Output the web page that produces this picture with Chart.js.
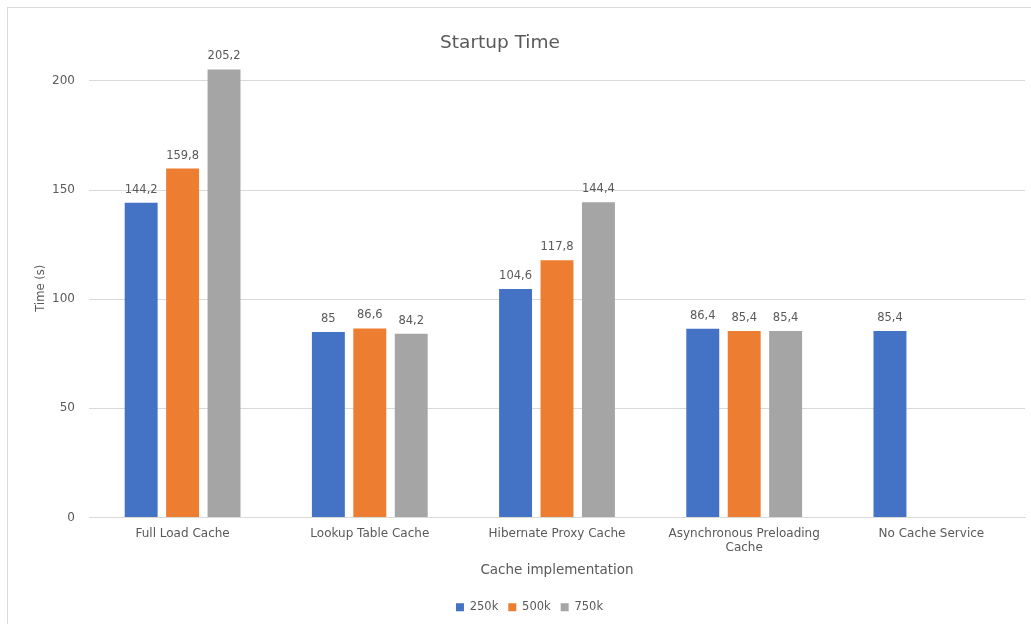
<!DOCTYPE html>
<html>
<head>
<meta charset="utf-8">
<script src="https://cdn.jsdelivr.net/npm/chart.js@4"></script>
<style>
  html, body { margin: 0; padding: 0; background: #fff; overflow: hidden; }
  #wrap { position: absolute; left: 0; top: 0; width: 1031px; height: 624px; }
  #frame { position: absolute; left: 7px; top: 7px; width: 1040px; height: 640px; border: 1px solid #d9d9d9; box-sizing: border-box; }
  canvas { position: absolute; left: 0; top: 0; }
</style>
</head>
<body>
<div id="wrap">
  <div id="frame"></div>
  <canvas id="c" width="1031" height="624"></canvas>
</div>
<script>
const chartTitle = "Startup Time";
const categories = ["Full Load Cache", "Lookup Table Cache", "Hibernate Proxy Cache", ["Asynchronous Preloading", "Cache"], "No Cache Service"];
const seriesNames = ["250k", "500k", "750k"];
const values250k = [144.2, 85, 104.6, 86.4, 85.4];
const values500k = [159.8, 86.6, 117.8, 85.4, null];
const values750k = [205.2, 84.2, 144.4, 85.4, null];
const yTicks = [0, 50, 100, 150, 200];
const colors = ["#4472C4", "#ED7D31", "#A5A5A5"];

const textColor = "#595959";
const FONT = "'DejaVu Sans', sans-serif";

const labelPlugin = {
  id: "barLabels",
  afterDatasetsDraw(chart) {
    const ctx = chart.ctx;
    ctx.save();
    ctx.font = "11.5px " + FONT;
    ctx.fillStyle = textColor;
    ctx.textAlign = "center";
    ctx.textBaseline = "middle";
    chart.data.datasets.forEach((ds, i) => {
      const meta = chart.getDatasetMeta(i);
      meta.data.forEach((bar, j) => {
        const v = ds.data[j];
        if (v === null || v === undefined) return;
        const txt = String(v).replace(".", ",");
        ctx.fillText(txt, bar.x, bar.y - 13);
      });
    });
    // chart title
    ctx.font = "18.5px " + FONT;
    ctx.textBaseline = "middle";
    ctx.fillText(chartTitle, 500, 43);
    ctx.restore();
  }
};

const datasets = [values250k, values500k, values750k].map((d, i) => ({
  label: seriesNames[i],
  data: d,
  backgroundColor: colors[i],
  borderWidth: 0,
  categoryPercentage: 0.664,
  barPercentage: 0.795
}));

new Chart(document.getElementById("c"), {
  type: "bar",
  data: { labels: categories, datasets },
  plugins: [labelPlugin],
  options: {
    responsive: false,
    animation: false,
    layout: { padding: { left: 34, right: 6, top: 59, bottom: 1 } },
    plugins: {
      title: { display: false },
      legend: {
        position: "bottom",
        labels: {
          color: textColor,
          font: { family: FONT, size: 11.5 },
          boxWidth: 8,
          boxHeight: 8,
          padding: 10
        }
      },
      tooltip: { enabled: false }
    },
    scales: {
      x: {
        grid: { display: false },
        border: { color: "#d9d9d9" },
        ticks: { color: textColor, font: { family: FONT, size: 12 }, padding: 1, maxRotation: 0, autoSkip: false },
        title: { display: true, text: "Cache implementation", color: textColor, font: { family: FONT, size: 13.5 }, padding: { top: 6, bottom: 13 } }
      },
      y: {
        min: 0,
        max: 210,
        afterBuildTicks(scale) { scale.ticks = yTicks.map(v => ({ value: v })); },
        afterFit(scale) { scale.width = 55; },
        grid: { color: "#d9d9d9", drawTicks: false },
        border: { display: false },
        ticks: { color: textColor, font: { family: FONT, size: 12 }, padding: 14 },
        title: { display: true, text: "Time (s)", color: textColor, font: { family: FONT, size: 11.5 }, padding: { top: 0, bottom: 0 } }
      }
    }
  }
});
</script>
</body>
</html>
